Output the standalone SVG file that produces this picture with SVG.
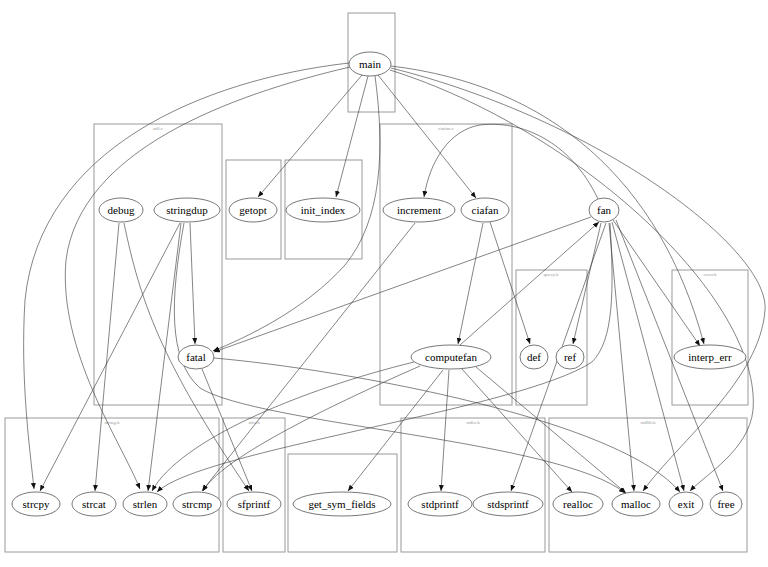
<svg xmlns="http://www.w3.org/2000/svg" width="768" height="567" viewBox="0 0 768 567">
<style>
.cl{fill:none;stroke:#9a9a9a;stroke-width:1}
.cll{font-family:'Liberation Serif','Times New Roman',serif;font-size:5px;fill:#999;text-anchor:middle}
.e path{fill:none;stroke:#333;stroke-width:0.6;marker-end:url(#ah)}
.n ellipse{fill:#fff;stroke:#555;stroke-width:0.8}
.n text{font-family:'Liberation Serif','Times New Roman',serif;font-size:11px;fill:#000;text-anchor:middle}
</style>
<defs>
<marker id="ah" markerUnits="userSpaceOnUse" markerWidth="7" markerHeight="5" refX="6" refY="2.5" orient="auto">
<path d="M0,0 L6,2.5 L0,5 z" fill="#111"/>
</marker>
</defs>
<rect width="768" height="567" fill="#fff"/>
<g id="clusters">
<rect class="cl" x="348" y="13" width="47" height="99"/>
<rect class="cl" x="94" y="124" width="128" height="281"/>
<text class="cll" x="158" y="130">util.c</text>
<rect class="cl" x="226" y="160" width="55" height="99"/>
<rect class="cl" x="285" y="160" width="77" height="99"/>
<rect class="cl" x="380" y="124" width="132" height="281"/>
<text class="cll" x="446" y="130">ciafan.c</text>
<rect class="cl" x="516" y="270" width="71" height="135"/>
<text class="cll" x="551" y="276">query.h</text>
<rect class="cl" x="672" y="270" width="76" height="135"/>
<text class="cll" x="710" y="276">error.h</text>
<rect class="cl" x="5" y="418" width="214" height="134"/>
<text class="cll" x="112" y="424">string.h</text>
<rect class="cl" x="223" y="418" width="62" height="134"/>
<text class="cll" x="254" y="424">sfio.h</text>
<rect class="cl" x="288" y="454" width="109" height="98"/>
<rect class="cl" x="401" y="418" width="144" height="134"/>
<text class="cll" x="473" y="424">stdio.h</text>
<rect class="cl" x="549" y="418" width="198" height="134"/>
<text class="cll" x="648" y="424">stdlib.h</text>
</g>
<g id="edges" class="e">
<path d="M349,63 C200,80 40,150 25,300 C20,380 30,450 34,489"/>
<path d="M350,67 C230,95 80,150 66,260 C58,350 120,440 140,489"/>
<path d="M362,75 L258,197"/>
<path d="M368,76 L336,197"/>
<path d="M375,76 C385,150 382,220 345,265 C305,310 245,338 213,351"/>
<path d="M378,75 L476,198"/>
<path d="M391,66 C550,85 660,180 704,344"/>
<path d="M391,68 C600,120 770,250 765,310 C760,380 680,440 643,491"/>
<path d="M390,70 C580,130 762,300 753,410 C749,450 705,475 690,491"/>
<path d="M119,223 L95,491"/>
<path d="M124,223 C140,300 160,360 249,491"/>
<path d="M180,223 L40,491"/>
<path d="M181,223 L148,491"/>
<path d="M190,223 L195,344"/>
<path d="M184,223 C170,300 168,360 200,388 C260,425 560,440 625,493"/>
<path d="M202,369 L252,491"/>
<path d="M214,358 C350,370 620,420 680,492"/>
<path d="M598,199 C570,140 520,120 480,125 C450,130 430,160 424,197"/>
<path d="M483,223 L458,344"/>
<path d="M490,222 L530,344"/>
<path d="M415,223 L202,491"/>
<path d="M460,345 L599,222"/>
<path d="M414,362 C300,390 180,440 152,491"/>
<path d="M420,366 C320,410 220,460 203,491"/>
<path d="M443,370 L348,491"/>
<path d="M449,370 L441,491"/>
<path d="M462,369 L572,492"/>
<path d="M476,367 L626,493"/>
<path d="M591,217 L214,352"/>
<path d="M601,223 L573,344"/>
<path d="M613,220 L700,346"/>
<path d="M610,223 C614,290 614,340 592,362 C520,410 200,450 157,492"/>
<path d="M606,223 L511,491"/>
<path d="M609,223 L634,491"/>
<path d="M612,222 L684,491"/>
<path d="M616,220 L723,491"/>
</g>
<g id="main" class="n"><ellipse cx="370" cy="64" rx="21" ry="12"/><text x="370" y="68">main</text></g>
<g id="debug" class="n"><ellipse cx="121" cy="210" rx="22" ry="12"/><text x="121" y="214">debug</text></g>
<g id="stringdup" class="n"><ellipse cx="187" cy="210" rx="33" ry="12"/><text x="187" y="214">stringdup</text></g>
<g id="getopt" class="n"><ellipse cx="253" cy="210" rx="24" ry="12"/><text x="253" y="214">getopt</text></g>
<g id="init_index" class="n"><ellipse cx="323" cy="210" rx="37" ry="12"/><text x="323" y="214">init_index</text></g>
<g id="increment" class="n"><ellipse cx="419" cy="210" rx="36" ry="12"/><text x="419" y="214">increment</text></g>
<g id="ciafan" class="n"><ellipse cx="485" cy="210" rx="24" ry="12"/><text x="485" y="214">ciafan</text></g>
<g id="fan" class="n"><ellipse cx="604" cy="210" rx="15" ry="12"/><text x="604" y="214">fan</text></g>
<g id="fatal" class="n"><ellipse cx="196" cy="357" rx="18" ry="12"/><text x="196" y="361">fatal</text></g>
<g id="computefan" class="n"><ellipse cx="451" cy="357" rx="40" ry="12"/><text x="451" y="361">computefan</text></g>
<g id="def" class="n"><ellipse cx="534" cy="357" rx="14" ry="12"/><text x="534" y="361">def</text></g>
<g id="ref" class="n"><ellipse cx="570" cy="357" rx="14" ry="12"/><text x="570" y="361">ref</text></g>
<g id="interp_err" class="n"><ellipse cx="710" cy="357" rx="36" ry="12"/><text x="710" y="361">interp_err</text></g>
<g id="strcpy" class="n"><ellipse cx="36" cy="504" rx="24" ry="12"/><text x="36" y="508">strcpy</text></g>
<g id="strcat" class="n"><ellipse cx="94" cy="504" rx="22" ry="12"/><text x="94" y="508">strcat</text></g>
<g id="strlen" class="n"><ellipse cx="145" cy="504" rx="22" ry="12"/><text x="145" y="508">strlen</text></g>
<g id="strcmp" class="n"><ellipse cx="197" cy="504" rx="24" ry="12"/><text x="197" y="508">strcmp</text></g>
<g id="sfprintf" class="n"><ellipse cx="254" cy="504" rx="27" ry="12"/><text x="254" y="508">sfprintf</text></g>
<g id="get_sym_fields" class="n"><ellipse cx="342" cy="504" rx="49" ry="12"/><text x="342" y="508">get_sym_fields</text></g>
<g id="stdprintf" class="n"><ellipse cx="440" cy="504" rx="32" ry="12"/><text x="440" y="508">stdprintf</text></g>
<g id="stdsprintf" class="n"><ellipse cx="508" cy="504" rx="35" ry="12"/><text x="508" y="508">stdsprintf</text></g>
<g id="realloc" class="n"><ellipse cx="578" cy="504" rx="25" ry="12"/><text x="578" y="508">realloc</text></g>
<g id="malloc" class="n"><ellipse cx="636" cy="504" rx="24" ry="12"/><text x="636" y="508">malloc</text></g>
<g id="exit" class="n"><ellipse cx="686" cy="504" rx="17" ry="12"/><text x="686" y="508">exit</text></g>
<g id="free" class="n"><ellipse cx="726" cy="504" rx="16" ry="12"/><text x="726" y="508">free</text></g>
</svg>
